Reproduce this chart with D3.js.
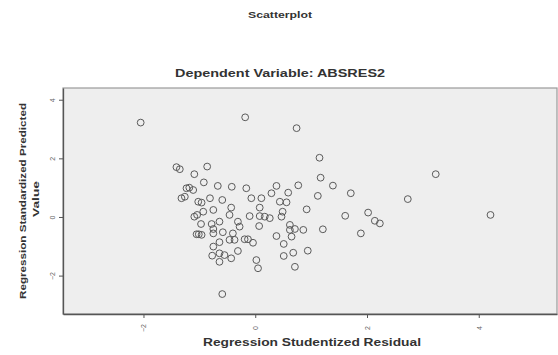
<!DOCTYPE html>
<html>
<head>
<meta charset="utf-8">
<script src="https://cdn.jsdelivr.net/npm/d3@7"></script>
<style>
  html, body { margin: 0; padding: 0; background: #ffffff; }
  svg { display: block; }
  text { font-family: "Liberation Sans", Arial, sans-serif; }
</style>
</head>
<body>
<svg id="chart" width="558" height="355"></svg>
<script>
// ---- data ----
const residualX = [
  -2.05, -1.41, -1.35, -1.09, -1.18, -1.11, -1.32, -1.26, -1.02, -1.09,
  -1.04, -1.05, -1.01, -0.18, 0.74, 1.15, 1.17, 1.39, 1.71, 1.12,
  0.92, 1.61, 2.02, 2.14, 1.21, 1.89, -0.86, -0.92, -0.67, -0.42,
  -0.16, 0.38, 0.77, 0.59, 0.29, 0.11, -0.07, -0.59, -0.81, -0.96,
  -1.23, 0.44, 0.56, -0.43, 0.08, -0.75, -0.93, 0.49, 0.47, -0.46,
  -0.10, 0.08, 0.17, 0.26, -0.64, -0.78, -0.97, -0.31, 0.07, -0.28,
  -0.75, 0.62, 0.62, 0.71, 0.86, -0.96, -0.75, -0.58, -0.40, -0.46,
  -0.37, -0.19, -0.13, -0.04, 0.38, 0.65, 0.51, -0.75, -0.64, -0.31,
  -0.77, -0.64, -0.55, -0.43, -0.64, 0.02, 0.05, 0.51, 0.68, 0.94,
  0.71, -0.59, 3.23, 2.73, 2.23, 4.21
];
const predictedY = [
  3.22, 1.70, 1.63, 1.46, 1.00, 0.92, 0.64, 0.69, 0.52, 0.01,
  0.07, -0.59, -0.59, 3.40, 3.03, 2.02, 1.34, 1.07, 0.81, 0.72,
  0.26, 0.04, 0.15, -0.13, -0.42, -0.56, 1.72, 1.18, 1.06, 1.03,
  0.98, 1.06, 1.08, 0.83, 0.81, 0.64, 0.64, 0.58, 0.64, 0.49,
  0.98, 0.52, 0.50, 0.32, 0.32, 0.24, 0.18, 0.18, 0.01, 0.07,
  0.03, 0.03, 0.01, -0.04, -0.16, -0.24, -0.24, -0.16, -0.31, -0.33,
  -0.41, -0.27, -0.44, -0.41, -0.44, -0.61, -0.56, -0.52, -0.56, -0.78,
  -0.78, -0.76, -0.76, -0.88, -0.65, -0.67, -0.92, -1.01, -0.86, -1.16,
  -1.32, -1.24, -1.30, -1.41, -1.53, -1.47, -1.75, -1.33, -1.22, -1.15,
  -1.70, -2.63, 1.46, 0.61, -0.22, 0.07
];
const xTicks = [-2, 0, 2, 4];
const yTicks = [-2, 0, 2, 4];
const titleText = "Scatterplot";
const subtitleText = "Dependent Variable: ABSRES2";
const xLabel = "Regression Studentized Residual";
const yLabelLines = ["Regression Standardized Predicted", "Value"];

// ---- layout ----
const svg = d3.select("#chart");
const plot = { left: 63, top: 88, right: 557, bottom: 314 };

const x = d3.scaleLinear().domain([-3.44, 5.40]).range([plot.left, plot.right]);
const y = d3.scaleLinear().domain([-3.31, 4.40]).range([plot.bottom, plot.top]);

// plot background
svg.append("rect")
  .attr("x", plot.left).attr("y", plot.top)
  .attr("width", plot.right - plot.left).attr("height", plot.bottom - plot.top)
  .attr("fill", "#eeeeee").attr("stroke", "#9a9a9a").attr("stroke-width", 1.2);

// axes
const xAxis = d3.axisBottom(x).tickValues(xTicks).tickSize(4).tickSizeOuter(0).tickFormat(d3.format("d"));
const yAxis = d3.axisLeft(y).tickValues(yTicks).tickSize(4).tickSizeOuter(0).tickFormat(d3.format("d"));

const gx = svg.append("g").attr("transform", `translate(0,${plot.bottom})`).call(xAxis);
const gy = svg.append("g").attr("transform", `translate(${plot.left},0)`).call(yAxis);

[gx, gy].forEach(g => {
  g.select(".domain").attr("stroke", "#555").attr("stroke-width", 1.3);
  g.selectAll(".tick line").attr("stroke", "#555");
  g.selectAll(".tick text").attr("fill", "#666").attr("font-size", 7);
});
gx.selectAll(".tick text")
  .attr("transform", "rotate(-90)")
  .attr("x", -14).attr("y", 0).attr("dy", "0.32em").attr("text-anchor", "middle");
gy.selectAll(".tick text")
  .each(function() {
    d3.select(this).attr("transform", "translate(-8,0) rotate(-90)")
      .attr("x", 0).attr("y", 0).attr("dy", "0").attr("text-anchor", "middle");
  });

// points
svg.append("g")
  .selectAll("circle")
  .data(residualX.map((v, i) => [v, predictedY[i]]))
  .join("circle")
  .attr("cx", d => x(d[0]))
  .attr("cy", d => y(d[1]))
  .attr("r", 3.4)
  .attr("fill", "none")
  .attr("stroke", "#5a5a5a")
  .attr("stroke-width", 1);

// titles
svg.append("text").attr("x", 280).attr("y", 18).attr("text-anchor", "middle")
  .attr("font-size", 9).attr("font-weight", "bold").attr("fill", "#333")
  .attr("textLength", 64).attr("lengthAdjust", "spacingAndGlyphs").text(titleText);
svg.append("text").attr("x", 280).attr("y", 77).attr("text-anchor", "middle")
  .attr("font-size", 10).attr("font-weight", "bold").attr("fill", "#333")
  .attr("textLength", 210).attr("lengthAdjust", "spacingAndGlyphs").text(subtitleText);
svg.append("text").attr("x", 312).attr("y", 346).attr("text-anchor", "middle")
  .attr("font-size", 10).attr("font-weight", "bold").attr("fill", "#333")
  .attr("textLength", 218).attr("lengthAdjust", "spacingAndGlyphs").text(xLabel);

const yl = svg.append("g");
yl.append("text").attr("transform", "translate(26,201) rotate(-90)")
  .attr("text-anchor", "middle").attr("font-size", 9).attr("font-weight", "bold").attr("fill", "#333")
  .attr("textLength", 196).attr("lengthAdjust", "spacingAndGlyphs").text(yLabelLines[0]);
yl.append("text").attr("transform", "translate(39,199) rotate(-90)")
  .attr("text-anchor", "middle").attr("font-size", 9).attr("font-weight", "bold").attr("fill", "#333")
  .attr("textLength", 36).attr("lengthAdjust", "spacingAndGlyphs").text(yLabelLines[1]);
</script>
</body>
</html>
